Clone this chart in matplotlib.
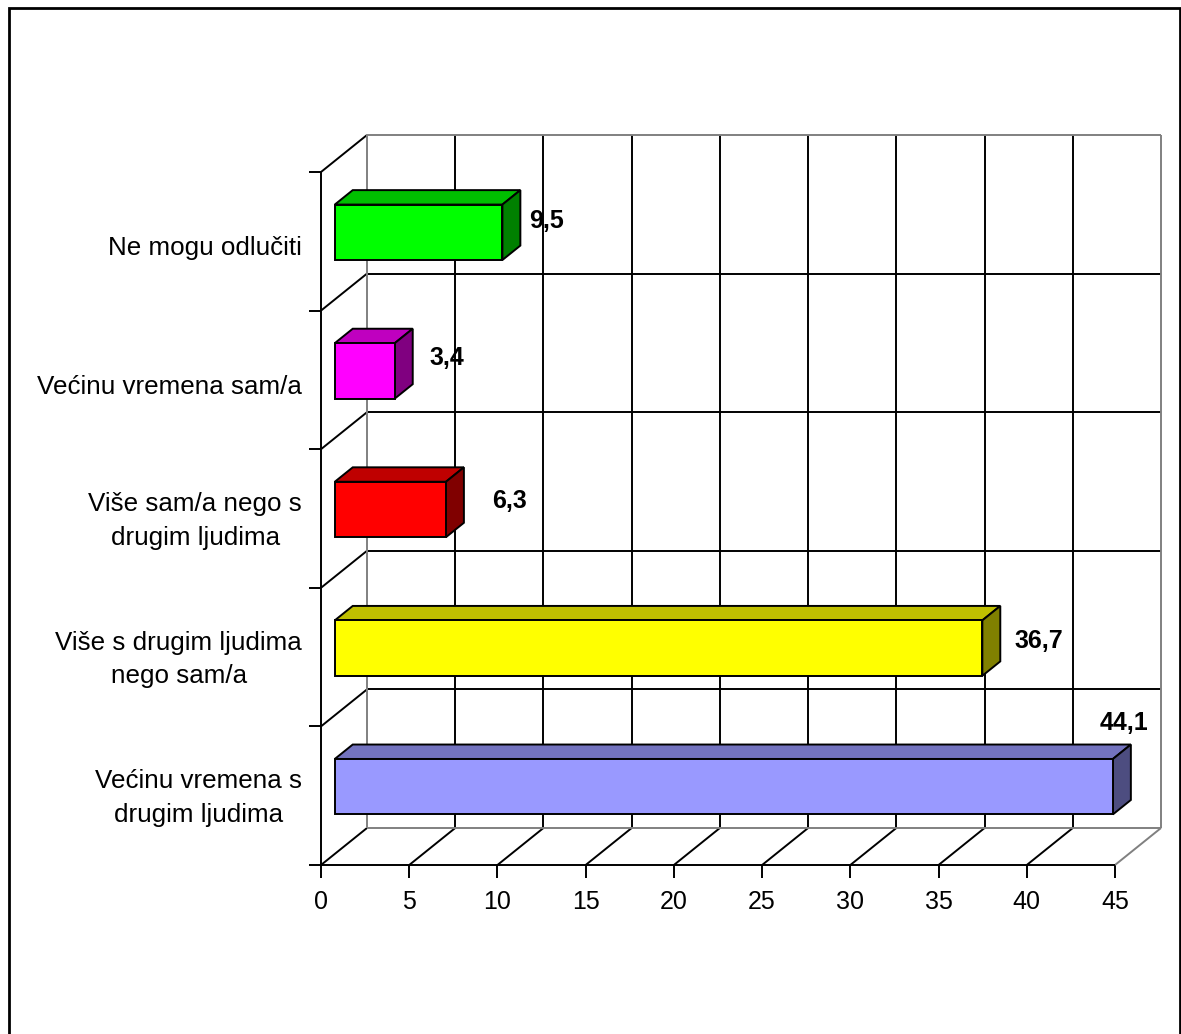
import matplotlib
matplotlib.use('Agg')
import matplotlib.pyplot as plt
from matplotlib.patches import Polygon, Rectangle

categories = ['Većinu vremena s\ndrugim ljudima', 'Više s drugim ljudima\nnego sam/a',
              'Više sam/a nego s\ndrugim ljudima', 'Većinu vremena sam/a', 'Ne mogu odlučiti']
values = [44.1, 36.7, 6.3, 3.4, 9.5]
value_labels = ['44,1', '36,7', '6,3', '3,4', '9,5']
front_colors = ['#9999ff', '#ffff00', '#ff0000', '#ff00ff', '#00ff00']
top_colors = ['#7373bf', '#bfbf00', '#bf0000', '#bf00bf', '#00bf00']
side_colors = ['#4d4d80', '#808000', '#800000', '#800080', '#008000']
xticks = [0, 5, 10, 15, 20, 25, 30, 35, 40, 45]
# hand placed value labels, pixels from the bar end
label_offsets = [(25, 73), (70, 16), (77, 17), (66, 22), (58, 20)]

W, H = 1181, 1034
plt.rcParams['font.family'] = ['Liberation Sans', 'DejaVu Sans']

fig = plt.figure(figsize=(W / 100, H / 100), dpi=100)
fig.add_artist(Rectangle((9.5 / W, -0.01), (W - 11) / W, 1.01 - 8 / H, transform=fig.transFigure,
                         fill=False, ec='black', lw=2.0))

ax = fig.add_axes([321 / W, 1 - 865 / H, 794 / W, 693 / H])
ax.set_xlim(0, 45)
ax.set_ylim(0, 5)
ax.axis('off')

# depth of the 3d box in data units
dx = 46 / (794 / 45)
dy = 37 / (693 / 5)
lw = 1.4
grey = '#808080'


def line(xs, ys, c='black', z=1):
    ax.plot(xs, ys, color=c, lw=lw, clip_on=False, zorder=z, solid_capstyle='butt')


# back wall and floor
for t in xticks[1:-1]:
    line([t + dx, t + dx], [dy, 5 + dy])
for t in xticks[:-1]:
    line([t, t + dx], [0, dy])
for i in range(1, 5):
    line([dx, 45 + dx], [i + dy, i + dy])
for i in range(1, 6):
    line([0, dx], [i, i + dy])
for i in range(6):
    line([-0.7, 0], [i, i])
line([dx, dx], [dy, 5 + dy], grey, 2)
line([45 + dx, 45 + dx], [dy, 5 + dy], grey, 2)
line([dx, 45 + dx], [5 + dy, 5 + dy], grey, 2)
line([dx, 45 + dx], [dy, dy], grey, 2)
line([45, 45 + dx], [0, dy], grey, 2)
line([0, 45], [0, 0], z=2)
line([0, 0], [0, 5], z=2)
for t in xticks:
    line([t, t], [0, -0.095])
    ax.text(t, -0.27, str(t), ha='center', va='center', fontsize=18)

# bars
bx = 0.3 * dx
by = 0.3 * dy
bw = 0.39 * dx
bd = 0.39 * dy
for i, v in enumerate(values):
    x0 = bx
    x1 = v + bx
    y0 = i + 0.3 + by - 0.015
    y1 = i + 0.7 + by - 0.015
    ax.add_patch(Polygon([(x0, y1), (x1, y1), (x1 + bw, y1 + bd), (x0 + bw, y1 + bd)], fc=top_colors[i],
                         ec='black', lw=lw, clip_on=False, zorder=3))
    ax.add_patch(Polygon([(x1, y0), (x1 + bw, y0 + bd), (x1 + bw, y1 + bd), (x1, y1)], fc=side_colors[i],
                         ec='black', lw=lw, clip_on=False, zorder=3))
    ax.add_patch(Rectangle((x0, y0), v, y1 - y0, fc=front_colors[i], ec='black', lw=lw, clip_on=False, zorder=4))
    ox, oy = label_offsets[i]
    ax.annotate(value_labels[i], (v, i + 0.5), xytext=(ox * 0.72, oy * 0.72), textcoords='offset points',
                ha='center', va='center', fontsize=18, fontweight='bold', annotation_clip=False, zorder=5)
    # single line labels sit a little lower than the category centre
    ty = i + 0.5 - (0.05 if '\n' not in categories[i] else 0.018)
    ax.text(-1.08, ty, categories[i], ha='right', va='center', multialignment='center', fontsize=18.7,
            linespacing=1.51, clip_on=False)

fig.savefig('out.png', dpi=100)
